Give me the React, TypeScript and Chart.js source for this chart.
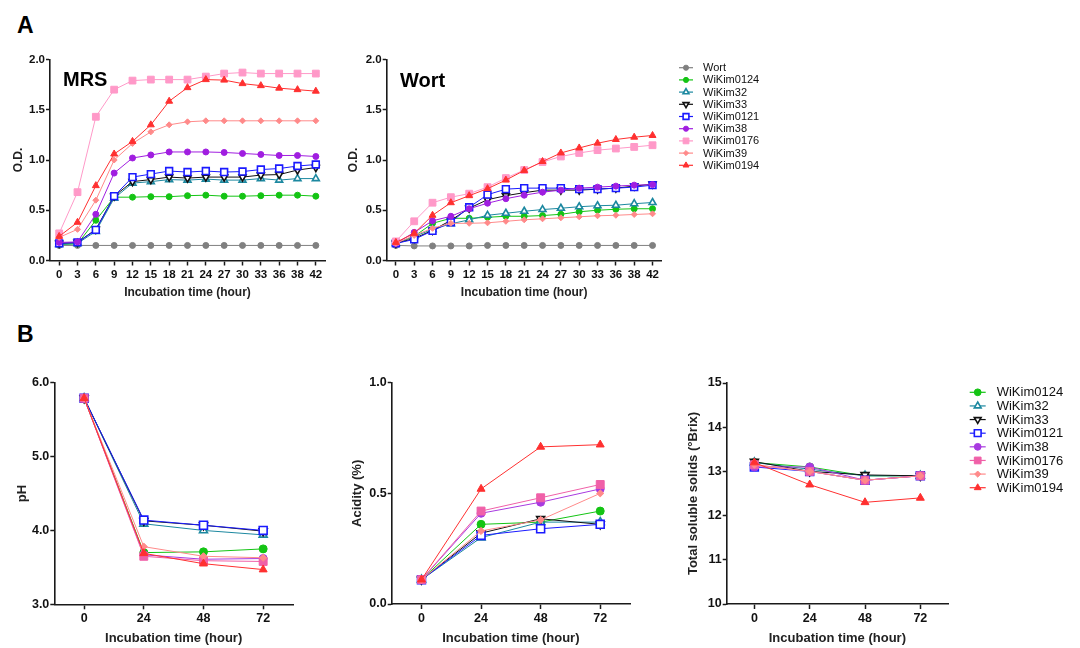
import React, { useEffect, useRef } from 'react';
import { Chart, registerables } from 'chart.js';
Chart.register(...registerables);

const FONT = '"Liberation Sans", Arial, Helvetica, sans-serif';

// ---------- categories ----------
const growthHours = ['0', '3', '6', '9', '12', '15', '18', '21', '24', '27', '30', '33', '36', '38', '42'];
const fermentHours = ['0', '24', '48', '72'];

// ---------- A: O.D. in MRS ----------
const mrsWort = [0.15, 0.15, 0.15, 0.15, 0.15, 0.15, 0.15, 0.15, 0.15, 0.15, 0.15, 0.15, 0.15, 0.15, 0.15];
const mrsWiKim0124 = [0.16, 0.165, 0.40, 0.63, 0.63, 0.635, 0.635, 0.645, 0.65, 0.64, 0.64, 0.645, 0.65, 0.65, 0.64];
const mrsWiKim32 = [0.16, 0.17, 0.29, 0.62, 0.77, 0.785, 0.805, 0.80, 0.81, 0.80, 0.80, 0.815, 0.80, 0.815, 0.815];
const mrsWiKim33 = [0.17, 0.18, 0.31, 0.64, 0.785, 0.805, 0.83, 0.82, 0.83, 0.83, 0.83, 0.85, 0.855, 0.90, 0.925];
const mrsWiKim0121 = [0.17, 0.18, 0.305, 0.64, 0.83, 0.86, 0.89, 0.88, 0.89, 0.88, 0.885, 0.905, 0.915, 0.94, 0.955];
const mrsWiKim38 = [0.18, 0.185, 0.46, 0.87, 1.02, 1.05, 1.08, 1.08, 1.08, 1.075, 1.065, 1.055, 1.045, 1.045, 1.035];
const mrsWiKim0176 = [0.27, 0.68, 1.43, 1.70, 1.79, 1.80, 1.80, 1.80, 1.83, 1.86, 1.87, 1.86, 1.86, 1.86, 1.86];
const mrsWiKim39 = [0.23, 0.31, 0.60, 1.00, 1.165, 1.28, 1.35, 1.38, 1.39, 1.39, 1.39, 1.39, 1.39, 1.39, 1.39];
const mrsWiKim0194 = [0.24, 0.38, 0.745, 1.06, 1.185, 1.35, 1.585, 1.72, 1.80, 1.795, 1.76, 1.74, 1.715, 1.70, 1.685];

// ---------- A: O.D. in Wort ----------
const wortWort = [0.15, 0.145, 0.145, 0.145, 0.145, 0.15, 0.15, 0.15, 0.15, 0.15, 0.15, 0.15, 0.15, 0.15, 0.15];
const wortWiKim0124 = [0.17, 0.24, 0.37, 0.42, 0.42, 0.43, 0.44, 0.44, 0.447, 0.46, 0.485, 0.50, 0.51, 0.515, 0.515];
const wortWiKim32 = [0.17, 0.24, 0.31, 0.365, 0.405, 0.45, 0.47, 0.49, 0.507, 0.52, 0.535, 0.545, 0.55, 0.565, 0.577];
const wortWiKim33 = [0.17, 0.22, 0.30, 0.40, 0.52, 0.605, 0.645, 0.675, 0.70, 0.70, 0.70, 0.71, 0.72, 0.74, 0.76];
const wortWiKim0121 = [0.17, 0.21, 0.295, 0.38, 0.53, 0.655, 0.71, 0.72, 0.72, 0.72, 0.71, 0.71, 0.72, 0.73, 0.75];
const wortWiKim38 = [0.17, 0.28, 0.395, 0.44, 0.515, 0.57, 0.615, 0.65, 0.68, 0.70, 0.72, 0.73, 0.74, 0.75, 0.755];
const wortWiKim0176 = [0.19, 0.39, 0.575, 0.63, 0.665, 0.73, 0.82, 0.90, 0.98, 1.035, 1.07, 1.098, 1.114, 1.13, 1.147];
const wortWiKim39 = [0.17, 0.25, 0.32, 0.37, 0.37, 0.375, 0.39, 0.405, 0.415, 0.425, 0.435, 0.445, 0.45, 0.458, 0.465];
const wortWiKim0194 = [0.18, 0.27, 0.45, 0.575, 0.645, 0.715, 0.80, 0.896, 0.985, 1.07, 1.12, 1.167, 1.204, 1.227, 1.244];

// ---------- B: pH ----------
const phWiKim0124 = [5.79, 3.70, 3.71, 3.75];
const phWiKim32 = [5.79, 4.09, 4.00, 3.94];
const phWiKim33 = [5.79, 4.13, 4.07, 3.99];
const phWiKim0121 = [5.79, 4.14, 4.07, 4.00];
const phWiKim38 = [5.79, 3.67, 3.61, 3.62];
const phWiKim0176 = [5.79, 3.65, 3.59, 3.58];
const phWiKim39 = [5.79, 3.78, 3.65, 3.63];
const phWiKim0194 = [5.79, 3.69, 3.55, 3.47];

// ---------- B: Acidity (%) ----------
const acWiKim0124 = [0.11, 0.36, 0.37, 0.42];
const acWiKim32 = [0.11, 0.30, 0.37, 0.37];
const acWiKim33 = [0.11, 0.32, 0.385, 0.36];
const acWiKim0121 = [0.11, 0.31, 0.34, 0.36];
const acWiKim38 = [0.11, 0.41, 0.46, 0.52];
const acWiKim0176 = [0.11, 0.42, 0.48, 0.54];
const acWiKim39 = [0.11, 0.33, 0.38, 0.50];
const acWiKim0194 = [0.11, 0.52, 0.71, 0.72];

// ---------- B: Total soluble solids (°Brix) ----------
const bxWiKim0124 = [13.2, 13.1, 12.9, 12.9];
const bxWiKim32 = [13.2, 13.05, 12.9, 12.9];
const bxWiKim33 = [13.22, 13.0, 12.92, 12.9];
const bxWiKim0121 = [13.1, 13.0, 12.8, 12.9];
const bxWiKim38 = [13.1, 13.1, 12.8, 12.9];
const bxWiKim0176 = [13.15, 13.0, 12.8, 12.9];
const bxWiKim39 = [13.15, 13.0, 12.8, 12.9];
const bxWiKim0194 = [13.2, 12.7, 12.3, 12.4];

// ---------- styles ----------
type Shape = 'circle' | 'triangle' | 'rect' | 'rectRot';
const STYLE: Record<string, { top: string; bottom: string; shape: Shape; rot: number; open: boolean }> = {
  Wort: { top: '#808080', bottom: '#808080', shape: 'circle', rot: 0, open: false },
  WiKim0124: { top: '#14c414', bottom: '#14c414', shape: 'circle', rot: 0, open: false },
  WiKim32: { top: '#1c88a0', bottom: '#1c88a0', shape: 'triangle', rot: 0, open: true },
  WiKim33: { top: '#111111', bottom: '#111111', shape: 'triangle', rot: 180, open: true },
  WiKim0121: { top: '#1a1aff', bottom: '#1a1aff', shape: 'rect', rot: 0, open: true },
  WiKim38: { top: '#a01ee0', bottom: '#a83ae0', shape: 'circle', rot: 0, open: false },
  WiKim0176: { top: '#ff99c8', bottom: '#f060a8', shape: 'rect', rot: 0, open: false },
  WiKim39: { top: '#ff8a8a', bottom: '#ff8a8a', shape: 'rectRot', rot: 0, open: false },
  WiKim0194: { top: '#ff3030', bottom: '#ff3030', shape: 'triangle', rot: 0, open: false },
};

function drawMarker(ctx: CanvasRenderingContext2D, shape: string, x: number, y: number, r: number, rot: number, fill: string, stroke: string, bw: number) {
  ctx.save();
  ctx.translate(x, y);
  ctx.rotate((rot * Math.PI) / 180);
  ctx.beginPath();
  if (shape === 'circle') {
    ctx.arc(0, 0, r, 0, Math.PI * 2);
  } else if (shape === 'triangle') {
    ctx.moveTo(0, -r);
    ctx.lineTo(r * 0.866, r * 0.5);
    ctx.lineTo(-r * 0.866, r * 0.5);
    ctx.closePath();
  } else if (shape === 'rect') {
    const s = r * Math.SQRT1_2;
    ctx.rect(-s, -s, 2 * s, 2 * s);
  } else {
    ctx.moveTo(0, -r);
    ctx.lineTo(r, 0);
    ctx.lineTo(0, r);
    ctx.lineTo(-r, 0);
    ctx.closePath();
  }
  ctx.fillStyle = fill;
  ctx.fill();
  ctx.lineWidth = bw;
  ctx.strokeStyle = stroke;
  ctx.stroke();
  ctx.restore();
}

const sideLegend = {
  id: 'sideLegend',
  afterDraw(chart: any, _args: any, opts: any) {
    if (!opts || !opts.show) return;
    const ctx: CanvasRenderingContext2D = chart.ctx;
    ctx.save();
    chart.data.datasets.forEach((ds: any, i: number) => {
      const y = opts.y0 + i * opts.dy;
      ctx.strokeStyle = ds.borderColor;
      ctx.lineWidth = 1.2;
      ctx.beginPath();
      ctx.moveTo(opts.x - opts.half, y);
      ctx.lineTo(opts.x + opts.half, y);
      ctx.stroke();
      drawMarker(ctx, ds.pointStyle, opts.x, y, ds.pointRadius * opts.scale, ds.pointRotation, ds.pointBackgroundColor, ds.pointBorderColor, ds.pointBorderWidth);
      ctx.fillStyle = '#111';
      ctx.font = `${opts.size}px ${FONT}`;
      ctx.textBaseline = 'middle';
      ctx.textAlign = 'left';
      ctx.fillText(ds.label, opts.tx, y + 0.5);
    });
    ctx.restore();
  },
};

type Spec = {
  x: number; y: number; w: number; h: number;
  area: { l: number; t: number; r: number; b: number };
  labels: string[];
  series: { name: string; data: number[] }[];
  big: boolean;
  yMin: number; yMax: number; yStep: number; dec: number;
  yTitle: string; yTitlePad: number; xTitlePad: number;
  tickSize: number; titleSize: number;
  legend?: { x: number; tx: number; y0: number; dy: number; half: number; size: number; scale: number };
};

const RADII_TOP: Record<string, number> = { circle: 3, triangle: 4, rect: 4.8, rectRot: 3 };
const RADII_BOTTOM: Record<string, number> = { circle: 4, triangle: 4.6, rect: 5.6, rectRot: 3.6 };

function buildConfig(p: Spec): any {
  const radii = p.big ? RADII_BOTTOM : RADII_TOP;
  const datasets = p.series.map((s, i) => {
    const st = STYLE[s.name];
    const color = p.big ? st.bottom : st.top;
    return {
      label: s.name,
      data: s.data,
      borderColor: color,
      backgroundColor: st.open ? '#ffffff' : color,
      borderWidth: 1,
      pointStyle: st.shape,
      pointRotation: st.rot,
      pointRadius: radii[st.shape],
      pointBorderWidth: st.open ? 1.6 : 1,
      pointBackgroundColor: st.open ? '#ffffff' : color,
      pointBorderColor: color,
      tension: 0,
      clip: false,
      order: -i,
    };
  });
  const axisColor = '#1a1a1a';
  return {
    type: 'line',
    data: { labels: p.labels, datasets },
    plugins: [sideLegend],
    options: {
      responsive: false,
      animation: false,
      devicePixelRatio: 1,
      events: [],
      layout: { padding: { left: 0, top: p.area.t, right: p.w - p.area.r, bottom: 0 } },
      plugins: {
        legend: { display: false },
        tooltip: { enabled: false },
        sideLegend: p.legend ? { show: true, ...p.legend } : { show: false },
      },
      scales: {
        x: {
          type: 'category',
          offset: true,
          grid: { drawOnChartArea: false, offset: false, drawTicks: true, tickLength: 5, tickWidth: 1.5, tickColor: axisColor },
          border: { display: true, color: axisColor, width: 1.6 },
          ticks: { color: '#111', font: { family: FONT, size: p.tickSize, weight: 'bold' }, padding: 2, maxRotation: 0, autoSkip: false },
          title: { display: true, text: 'Incubation time (hour)', color: '#222', font: { family: FONT, size: p.titleSize, weight: 'bold' }, padding: { top: 0, bottom: p.xTitlePad } },
          afterFit: (s: any) => { s.height = p.h - p.area.b; },
        },
        y: {
          type: 'linear',
          min: p.yMin,
          max: p.yMax,
          grid: { drawOnChartArea: false, drawTicks: true, tickLength: 4, tickWidth: 1.5, tickColor: axisColor },
          border: { display: true, color: axisColor, width: 1.6 },
          ticks: {
            stepSize: p.yStep,
            color: '#111',
            font: { family: FONT, size: p.tickSize, weight: 'bold' },
            padding: 1,
            callback: (v: any) => Number(v).toFixed(p.dec),
          },
          title: { display: true, text: p.yTitle, color: '#222', font: { family: FONT, size: p.titleSize, weight: 'bold' }, padding: { top: p.yTitlePad, bottom: 0 } },
          afterFit: (s: any) => { s.width = p.area.l; },
        },
      },
    },
  };
}

function Panel({ spec }: { spec: Spec }) {
  const ref = useRef<HTMLCanvasElement>(null);
  useEffect(() => {
    const chart = new Chart(ref.current as HTMLCanvasElement, buildConfig(spec));
    return () => chart.destroy();
  }, []);
  return (
    <canvas
      ref={ref}
      width={spec.w}
      height={spec.h}
      style={{ position: 'absolute', left: spec.x, top: spec.y, width: spec.w, height: spec.h }}
    />
  );
}

const mrsSpec: Spec = {
  x: 0, y: 40, w: 340, h: 270,
  area: { l: 50, t: 19.5, r: 325, b: 220.5 },
  labels: growthHours,
  series: [
    { name: 'Wort', data: mrsWort },
    { name: 'WiKim0124', data: mrsWiKim0124 },
    { name: 'WiKim32', data: mrsWiKim32 },
    { name: 'WiKim33', data: mrsWiKim33 },
    { name: 'WiKim0121', data: mrsWiKim0121 },
    { name: 'WiKim38', data: mrsWiKim38 },
    { name: 'WiKim0176', data: mrsWiKim0176 },
    { name: 'WiKim39', data: mrsWiKim39 },
    { name: 'WiKim0194', data: mrsWiKim0194 },
  ],
  big: false,
  yMin: 0, yMax: 2, yStep: 0.5, dec: 1,
  yTitle: 'O.D.', yTitlePad: 11, xTitlePad: 10,
  tickSize: 11.5, titleSize: 12,
};

const wortSpec: Spec = {
  x: 340, y: 40, w: 440, h: 270,
  area: { l: 46.7, t: 19.5, r: 321.7, b: 220.5 },
  labels: growthHours,
  series: [
    { name: 'Wort', data: wortWort },
    { name: 'WiKim0124', data: wortWiKim0124 },
    { name: 'WiKim32', data: wortWiKim32 },
    { name: 'WiKim33', data: wortWiKim33 },
    { name: 'WiKim0121', data: wortWiKim0121 },
    { name: 'WiKim38', data: wortWiKim38 },
    { name: 'WiKim0176', data: wortWiKim0176 },
    { name: 'WiKim39', data: wortWiKim39 },
    { name: 'WiKim0194', data: wortWiKim0194 },
  ],
  big: false,
  yMin: 0, yMax: 2, yStep: 0.5, dec: 1,
  yTitle: 'O.D.', yTitlePad: 6.5, xTitlePad: 10,
  tickSize: 11.5, titleSize: 12,
  legend: { x: 346, tx: 363, y0: 27.7, dy: 12.2, half: 7, size: 11, scale: 0.85 },
};

const phSpec: Spec = {
  x: 0, y: 360, w: 340, h: 288,
  area: { l: 54.3, t: 22.7, r: 293, b: 244.3 },
  labels: fermentHours,
  series: [
    { name: 'WiKim0124', data: phWiKim0124 },
    { name: 'WiKim32', data: phWiKim32 },
    { name: 'WiKim33', data: phWiKim33 },
    { name: 'WiKim0121', data: phWiKim0121 },
    { name: 'WiKim38', data: phWiKim38 },
    { name: 'WiKim0176', data: phWiKim0176 },
    { name: 'WiKim39', data: phWiKim39 },
    { name: 'WiKim0194', data: phWiKim0194 },
  ],
  big: true,
  yMin: 3, yMax: 6, yStep: 1, dec: 1,
  yTitle: 'pH', yTitlePad: 15, xTitlePad: 2,
  tickSize: 12.5, titleSize: 13,
};

const acSpec: Spec = {
  x: 340, y: 360, w: 320, h: 288,
  area: { l: 51.7, t: 22.7, r: 290, b: 244 },
  labels: fermentHours,
  series: [
    { name: 'WiKim0124', data: acWiKim0124 },
    { name: 'WiKim32', data: acWiKim32 },
    { name: 'WiKim33', data: acWiKim33 },
    { name: 'WiKim0121', data: acWiKim0121 },
    { name: 'WiKim38', data: acWiKim38 },
    { name: 'WiKim0176', data: acWiKim0176 },
    { name: 'WiKim39', data: acWiKim39 },
    { name: 'WiKim0194', data: acWiKim0194 },
  ],
  big: true,
  yMin: 0, yMax: 1, yStep: 0.5, dec: 1,
  yTitle: 'Acidity (%)', yTitlePad: 9.5, xTitlePad: 2,
  tickSize: 12.5, titleSize: 13,
};

const bxSpec: Spec = {
  x: 660, y: 360, w: 420, h: 288,
  area: { l: 66.7, t: 23, r: 288, b: 244 },
  labels: fermentHours,
  series: [
    { name: 'WiKim0124', data: bxWiKim0124 },
    { name: 'WiKim32', data: bxWiKim32 },
    { name: 'WiKim33', data: bxWiKim33 },
    { name: 'WiKim0121', data: bxWiKim0121 },
    { name: 'WiKim38', data: bxWiKim38 },
    { name: 'WiKim0176', data: bxWiKim0176 },
    { name: 'WiKim39', data: bxWiKim39 },
    { name: 'WiKim0194', data: bxWiKim0194 },
  ],
  big: true,
  yMin: 10, yMax: 15, yStep: 1, dec: 0,
  yTitle: 'Total soluble solids (°Brix)', yTitlePad: 25.5, xTitlePad: 2,
  tickSize: 12.5, titleSize: 13,
  legend: { x: 317.7, tx: 336.7, y0: 32.3, dy: 13.63, half: 8, size: 13, scale: 0.85 },
};

const label = (text: string, left: number, top: number, size: number) => (
  <div
    style={{
      position: 'absolute', left, top, fontFamily: FONT, fontWeight: 'bold',
      fontSize: size, lineHeight: `${size}px`, color: '#000', whiteSpace: 'nowrap',
    }}
  >
    {text}
  </div>
);

export default function App() {
  return (
    <div style={{ position: 'absolute', left: 0, top: 0, width: 1080, height: 648, background: '#fff', overflow: 'hidden' }}>
      <Panel spec={mrsSpec} />
      <Panel spec={wortSpec} />
      <Panel spec={phSpec} />
      <Panel spec={acSpec} />
      <Panel spec={bxSpec} />
      {label('A', 17, 14, 23)}
      {label('B', 17, 323, 23)}
      {label('MRS', 63, 69, 20)}
      {label('Wort', 400, 70, 20)}
    </div>
  );
}
